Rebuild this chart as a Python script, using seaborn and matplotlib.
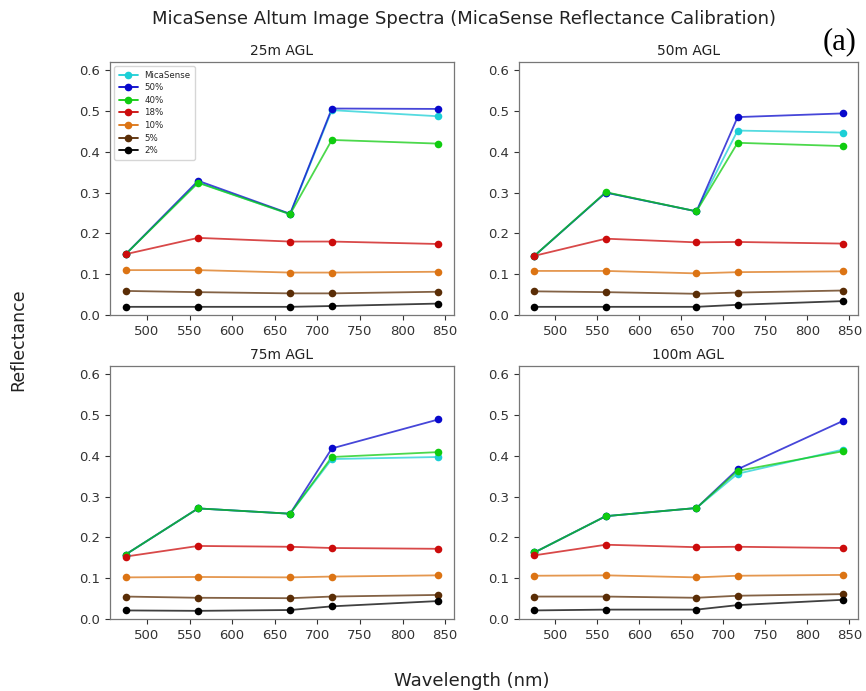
import matplotlib
matplotlib.use("Agg")
import matplotlib.pyplot as plt
from matplotlib.lines import Line2D
import seaborn as sns
import pandas as pd

wavelengths = [475, 560, 668, 717, 842]
series_names = ["MicaSense", "50%", "40%", "18%", "10%", "5%", "2%"]
colors = ["#1ccfd6", "#0808cc", "#10cc10", "#cc0c0c", "#dc7414", "#5a2d06", "#000000"]
panel_titles = ["25m AGL", "50m AGL", "75m AGL", "100m AGL"]

agl25 = {
    "MicaSense": [0.149, 0.325, 0.247, 0.502, 0.487],
    "50%": [0.149, 0.329, 0.248, 0.506, 0.505],
    "40%": [0.149, 0.324, 0.247, 0.429, 0.420],
    "18%": [0.149, 0.189, 0.180, 0.180, 0.174],
    "10%": [0.110, 0.110, 0.104, 0.104, 0.106],
    "5%": [0.059, 0.056, 0.053, 0.053, 0.057],
    "2%": [0.020, 0.020, 0.020, 0.022, 0.028],
}
agl50 = {
    "MicaSense": [0.145, 0.300, 0.254, 0.452, 0.447],
    "50%": [0.145, 0.300, 0.254, 0.485, 0.494],
    "40%": [0.145, 0.301, 0.254, 0.422, 0.414],
    "18%": [0.145, 0.187, 0.178, 0.179, 0.175],
    "10%": [0.108, 0.108, 0.102, 0.105, 0.107],
    "5%": [0.058, 0.056, 0.052, 0.055, 0.060],
    "2%": [0.020, 0.020, 0.020, 0.025, 0.034],
}
agl75 = {
    "MicaSense": [0.158, 0.271, 0.258, 0.392, 0.397],
    "50%": [0.158, 0.271, 0.258, 0.418, 0.489],
    "40%": [0.158, 0.271, 0.258, 0.397, 0.409],
    "18%": [0.153, 0.179, 0.177, 0.174, 0.172],
    "10%": [0.102, 0.103, 0.102, 0.104, 0.107],
    "5%": [0.055, 0.052, 0.051, 0.055, 0.059],
    "2%": [0.021, 0.020, 0.022, 0.031, 0.044],
}
agl100 = {
    "MicaSense": [0.163, 0.252, 0.272, 0.356, 0.415],
    "50%": [0.163, 0.252, 0.272, 0.367, 0.485],
    "40%": [0.163, 0.252, 0.272, 0.363, 0.411],
    "18%": [0.156, 0.182, 0.176, 0.177, 0.174],
    "10%": [0.106, 0.107, 0.102, 0.106, 0.108],
    "5%": [0.055, 0.055, 0.052, 0.057, 0.061],
    "2%": [0.021, 0.023, 0.023, 0.034, 0.047],
}
panels = [agl25, agl50, agl75, agl100]

sns.set_style("white")
plt.rcParams["font.family"] = ["DejaVu Sans"]

fig = plt.figure(figsize=(8.66, 6.91), dpi=100)
W, H = 866, 691
boxes = [(110, 62, 454, 315), (519, 62, 858, 315), (110, 366, 454, 619), (519, 366, 858, 619)]

for i, (data, title, (l, t, r, b)) in enumerate(zip(panels, panel_titles, boxes)):
    ax = fig.add_axes([l / W, 1 - b / H, (r - l) / W, (b - t) / H])
    for name, col in zip(series_names, colors):
        df = pd.DataFrame({"wl": wavelengths, "refl": data[name]})
        sns.lineplot(data=df, x="wl", y="refl", ax=ax, color=col,
                     linewidth=1.3, alpha=0.75, legend=False)
        sns.scatterplot(data=df, x="wl", y="refl", ax=ax, color=col, s=30,
                        linewidth=0, legend=False, zorder=3)
    ax.set_ylim(0, 0.62)
    ax.set_xticks([500, 550, 600, 650, 700, 750, 800, 850])
    ax.set_yticks([0.0, 0.1, 0.2, 0.3, 0.4, 0.5, 0.6])
    ax.tick_params(axis="both", labelsize=9.5, length=3.5, width=0.8, colors="#333333",
                   left=True, bottom=True)
    ax.set_xlabel("")
    ax.set_ylabel("")
    ax.set_title(title, fontsize=10, pad=5, color="#222222")
    for sp in ax.spines.values():
        sp.set_color("#777777")
        sp.set_linewidth(0.9)
    if i == 0:
        handles = [Line2D([], [], color=c, marker="o", markersize=4.5, linewidth=1.3)
                   for c in colors]
        leg = ax.legend(handles, series_names, loc="upper left", fontsize=6.2,
                        frameon=True, borderpad=0.5, labelspacing=0.42,
                        handlelength=2.2)
        leg.get_frame().set_edgecolor("#cccccc")

fig.suptitle("MicaSense Altum Image Spectra (MicaSense Reflectance Calibration)",
             x=464 / W, y=1 - 19 / H, va="center", fontsize=13, color="#222222")
fig.text(18 / W, 1 - 340 / H, "Reflectance", rotation=90, va="center", ha="center",
         fontsize=12.5, color="#222222")
fig.text(472 / W, 1 - 681 / H, "Wavelength (nm)", va="center", ha="center",
         fontsize=13, color="#222222")
fig.text(840 / W, 1 - 42 / H, "(a)", va="center", ha="center", fontsize=22,
         family=["Liberation Serif"], color="#000000")

fig.savefig("out.png", dpi=100)
